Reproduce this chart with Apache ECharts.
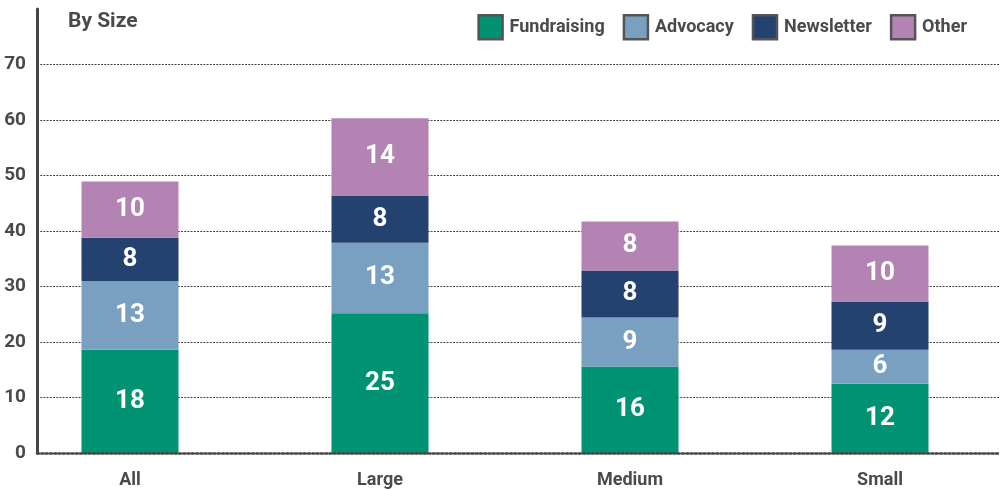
<!DOCTYPE html>
<html>
<head>
<meta charset="utf-8">
<script src="https://cdn.jsdelivr.net/npm/echarts@6/dist/echarts.min.js"></script>
<style>
html, body { margin: 0; padding: 0; background: #fff; }
#chart { width: 1004px; height: 491px; }
</style>
</head>
<body>
<div id="chart"></div>
<script>
// categories and values
var categories = ['All', 'Large', 'Medium', 'Small'];
var fundraising = [18.6, 25.2, 15.6, 12.5];
var advocacy = [12.4, 12.7, 8.8, 6.1];
var newsletter = [7.8, 8.5, 8.5, 8.7];
var other = [10.1, 13.9, 8.8, 10.1];
// labels printed on the bars
var fundraisingLabels = ['18', '25', '16', '12'];
var advocacyLabels = ['13', '13', '9', '6'];
var newsletterLabels = ['8', '8', '8', '9'];
var otherLabels = ['10', '14', '8', '10'];

var font = "'Liberation Sans Narrow', Roboto, sans-serif";
var grey = '#4a4a4a';

function stackSeries(name, data, labels, color) {
    return {
        name: name,
        type: 'bar',
        stack: 'total',
        xAxisIndex: 1,
        yAxisIndex: 1,
        barWidth: 97,
        itemStyle: { color: color },
        label: {
            show: true,
            position: 'inside',
            color: '#fff',
            fontFamily: font,
            fontWeight: 'bold',
            fontSize: 26,
            formatter: function (p) { return labels[p.dataIndex]; }
        },
        data: data
    };
}

var chart = echarts.init(document.getElementById('chart'));
chart.setOption({
    animation: false,
    backgroundColor: '#fff',
    title: {
        text: 'By Size',
        left: 63,
        top: 6,
        textStyle: { fontFamily: font, fontWeight: 'bold', fontSize: 21, color: grey }
    },
    legend: {
        right: 32,
        top: 9,
        itemWidth: 24,
        itemHeight: 24,
        itemGap: 18,
        icon: 'rect',
        itemStyle: { borderColor: '#555', borderWidth: 2.5 },
        textStyle: { fontFamily: font, fontWeight: 'bold', fontSize: 18, color: grey, padding: [0, 0, 0, 2] },
        data: ['Fundraising', 'Advocacy', 'Newsletter', 'Other']
    },
    grid: [
        { left: 37, right: 4, top: 9, height: 444, outerBoundsMode: 'none' },
        { left: 5, width: 1000, top: 9, height: 444, outerBoundsMode: 'none' }
    ],
    xAxis: [
        {
            type: 'value',
            gridIndex: 0,
            min: 0,
            max: 1,
            z: 5,
            axisLine: { show: true, lineStyle: { color: '#444', width: 2.5, type: [2, 2.3] } },
            axisTick: { show: false },
            axisLabel: { show: false },
            splitLine: { show: false }
        },
        {
            type: 'category',
            gridIndex: 1,
            data: categories,
            axisLine: { show: false },
            axisTick: { show: false },
            axisLabel: {
                margin: 18,
                fontFamily: font,
                fontWeight: 'bold',
                fontSize: 18,
                color: grey
            }
        }
    ],
    yAxis: [
        {
            type: 'value',
            gridIndex: 0,
            min: 0,
            max: 80,
            interval: 10,
            axisLine: { show: true, lineStyle: { color: '#444', width: 3 } },
            axisTick: { show: false },
            axisLabel: {
                showMaxLabel: false,
                margin: 11,
                fontFamily: font,
                fontWeight: 'bold',
                fontSize: 19,
                color: grey
            },
            splitLine: {
                show: true,
                showMinLine: false,
                showMaxLine: false,
                lineStyle: { color: '#444', width: 1, type: [2, 1.2] }
            }
        },
        {
            type: 'value',
            gridIndex: 1,
            min: 0,
            max: 80,
            show: false
        }
    ],
    series: [
        stackSeries('Fundraising', fundraising, fundraisingLabels, '#009373'),
        stackSeries('Advocacy', advocacy, advocacyLabels, '#7aa0c1'),
        stackSeries('Newsletter', newsletter, newsletterLabels, '#24426f'),
        stackSeries('Other', other, otherLabels, '#b283b3')
    ]
});
window.addEventListener('resize', function () {
    chart.resize();
});
</script>
</body>
</html>
